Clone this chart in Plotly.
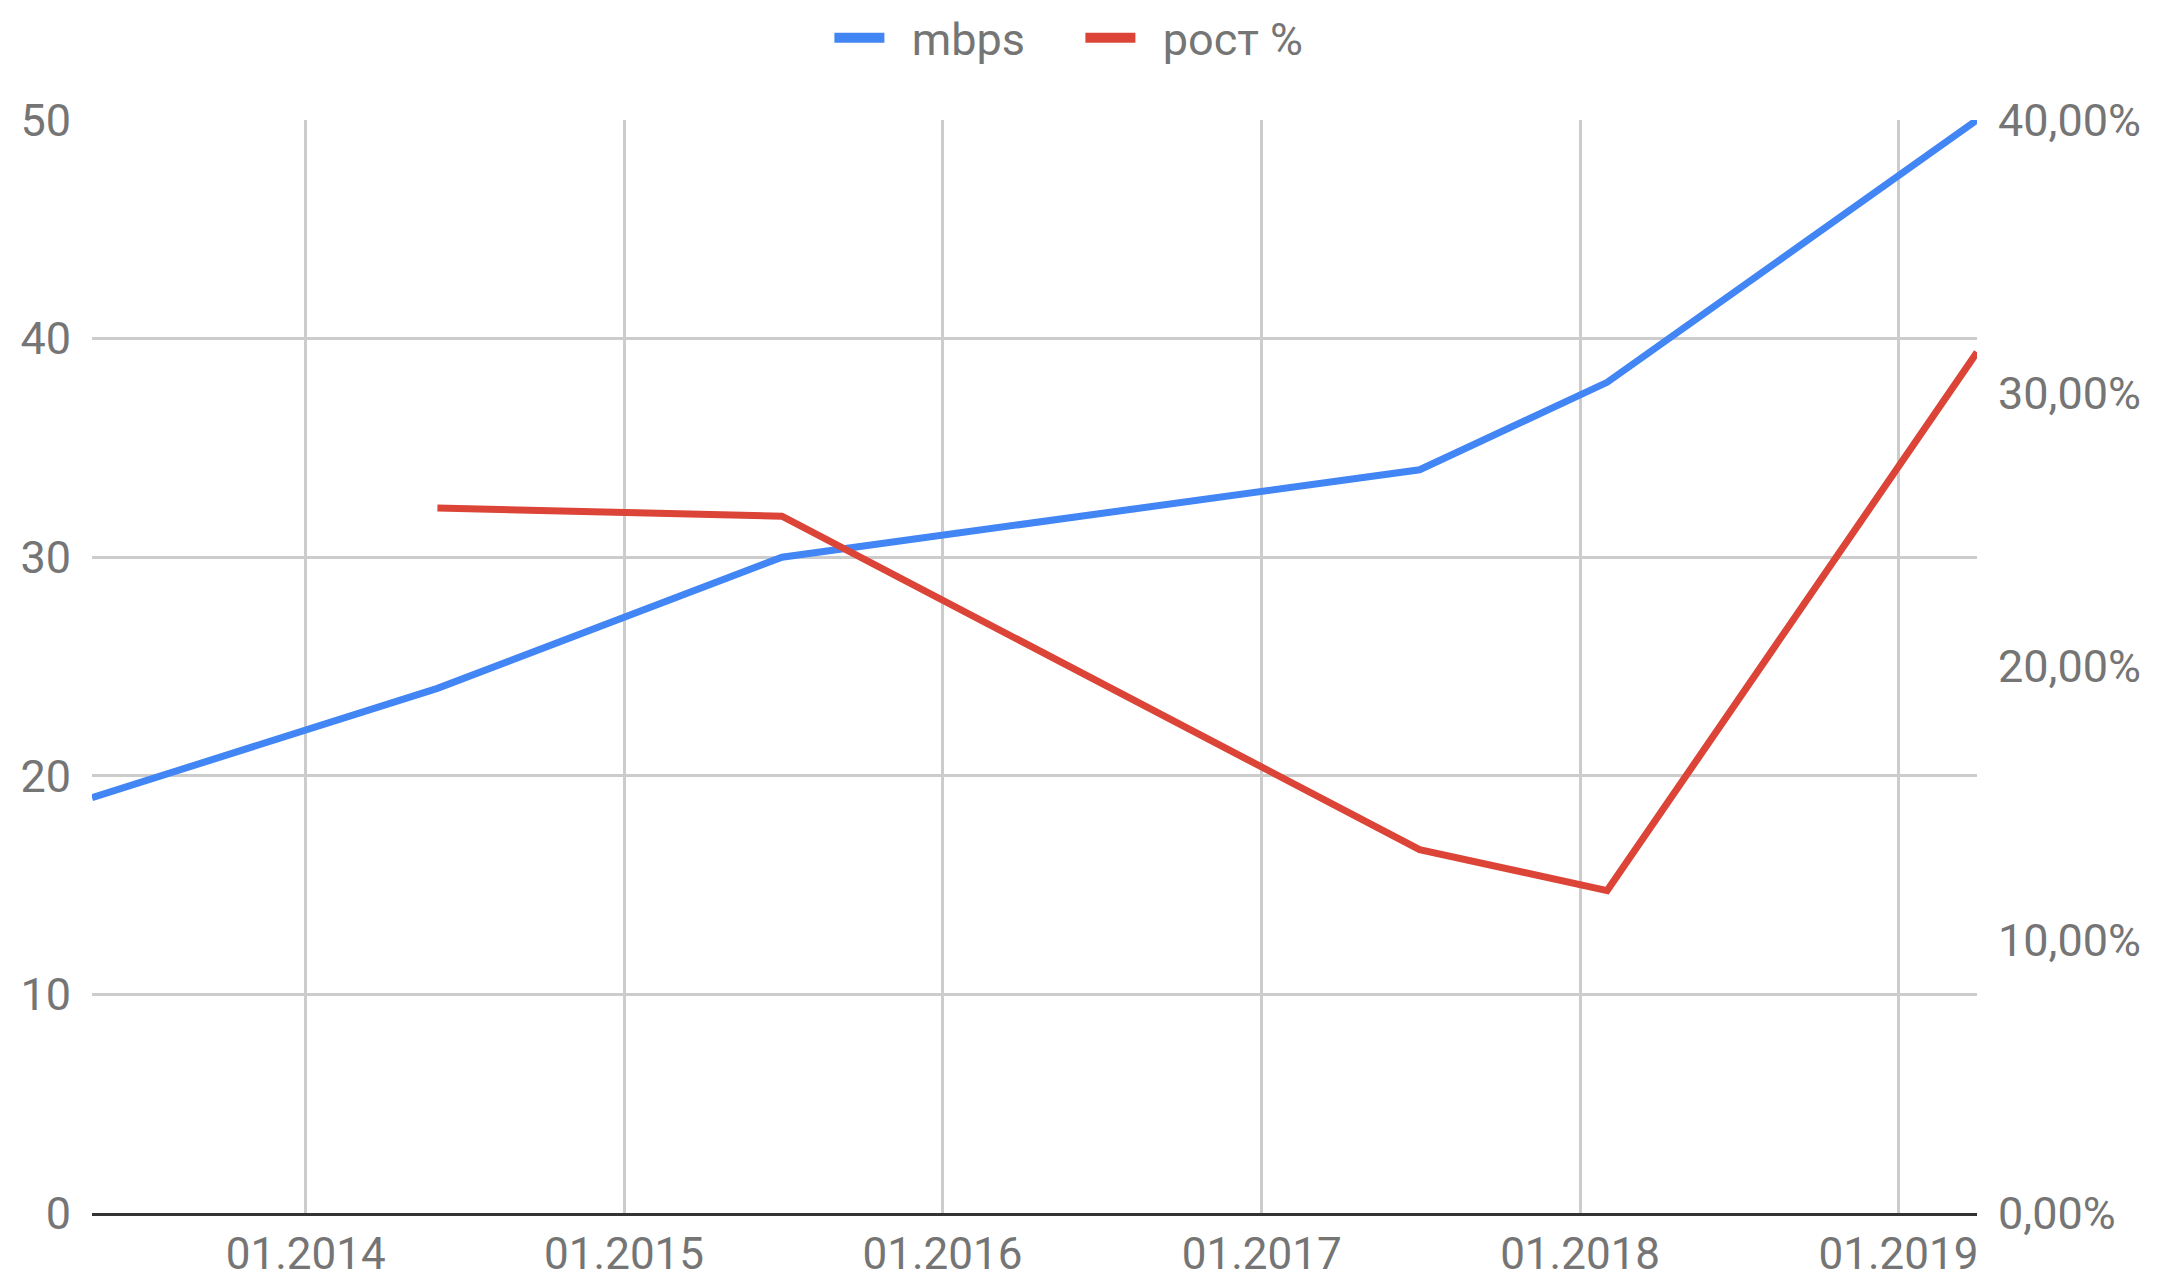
import plotly.graph_objects as go

# Daten
dates = ["2013-05-01", "2014-06-01", "2015-07-01", "2017-07-01", "2018-02-01", "2019-04-01"]
mbps = [19, 24, 30, 34, 38, 50]
# Wachstum in Prozent (erster Punkt ohne Wert)
growth = [None, 25.8, 25.5, 13.3, 11.8, 31.5]

x_ticks = ["2014-01-01", "2015-01-01", "2016-01-01", "2017-01-01", "2018-01-01", "2019-01-01"]
y_left_ticks = [0, 10, 20, 30, 40, 50]
y_right_ticks = [0, 10, 20, 30, 40]
y_right_labels = ["0,00%", "10,00%", "20,00%", "30,00%", "40,00%"]

BLUE = "#4285F4"
RED = "#DB4437"
GREY_TXT = "#757575"
FONT = "Roboto"
NBSP = "\u00a0\u00a0"  # Abstand zwischen Symbol und Text in der Legende

fig = go.Figure()

# Linien im Diagramm (ohne Legende)
fig.add_trace(go.Scatter(x=dates, y=mbps, name="mbps", mode="lines", showlegend=False,
                         line=dict(color=BLUE, width=7), yaxis="y"))
fig.add_trace(go.Scatter(x=dates, y=growth, name="рост %", mode="lines", showlegend=False,
                         line=dict(color=RED, width=7), yaxis="y2"))

# nur für die Legende (dickere Balken)
fig.add_trace(go.Scatter(x=[None], y=[None], name=NBSP + "mbps", mode="lines",
                         line=dict(color=BLUE, width=12)))
fig.add_trace(go.Scatter(x=[None], y=[None], name=NBSP + "рост %", mode="lines",
                         line=dict(color=RED, width=12)))

# Seite hat 8px Rand im Browser -> Figur etwas kleiner
fig.update_layout(
    width=2173, height=1271,
    margin=dict(l=84, r=204, t=112, b=66, autoexpand=False),
    paper_bgcolor="white", plot_bgcolor="white",
    font=dict(family=FONT, size=45, color=GREY_TXT),
    showlegend=True,
    legend=dict(orientation="h", xref="container", yref="container",
                x=0.378, xanchor="left", y=0.9764, yanchor="middle",
                font=dict(size=45, color=GREY_TXT), itemwidth=50,
                entrywidth=186, traceorder="normal"),
    xaxis=dict(
        type="date",
        range=[dates[0], dates[-1]],
        tickvals=x_ticks, tickformat="%m.%Y",
        showgrid=True, gridcolor="#cccccc", gridwidth=3,
        showline=True, linecolor="#333333", linewidth=3,
        zeroline=False, ticks="",
        tickfont=dict(size=44, color=GREY_TXT), automargin=False,
    ),
    yaxis=dict(
        range=[0, 50], tickvals=y_left_ticks,
        showgrid=True, gridcolor="#cccccc", gridwidth=3,
        zeroline=False, showline=False, ticks="", ticklabelstandoff=20,
        tickfont=dict(size=45, color=GREY_TXT), automargin=False,
    ),
    yaxis2=dict(
        range=[0, 40], tickvals=y_right_ticks, ticktext=y_right_labels,
        overlaying="y", side="right", showgrid=False, zeroline=False,
        showline=False, ticks="", ticklabelstandoff=20,
        tickfont=dict(size=45, color=GREY_TXT), automargin=False,
    ),
)

fig.write_html("out.html")
